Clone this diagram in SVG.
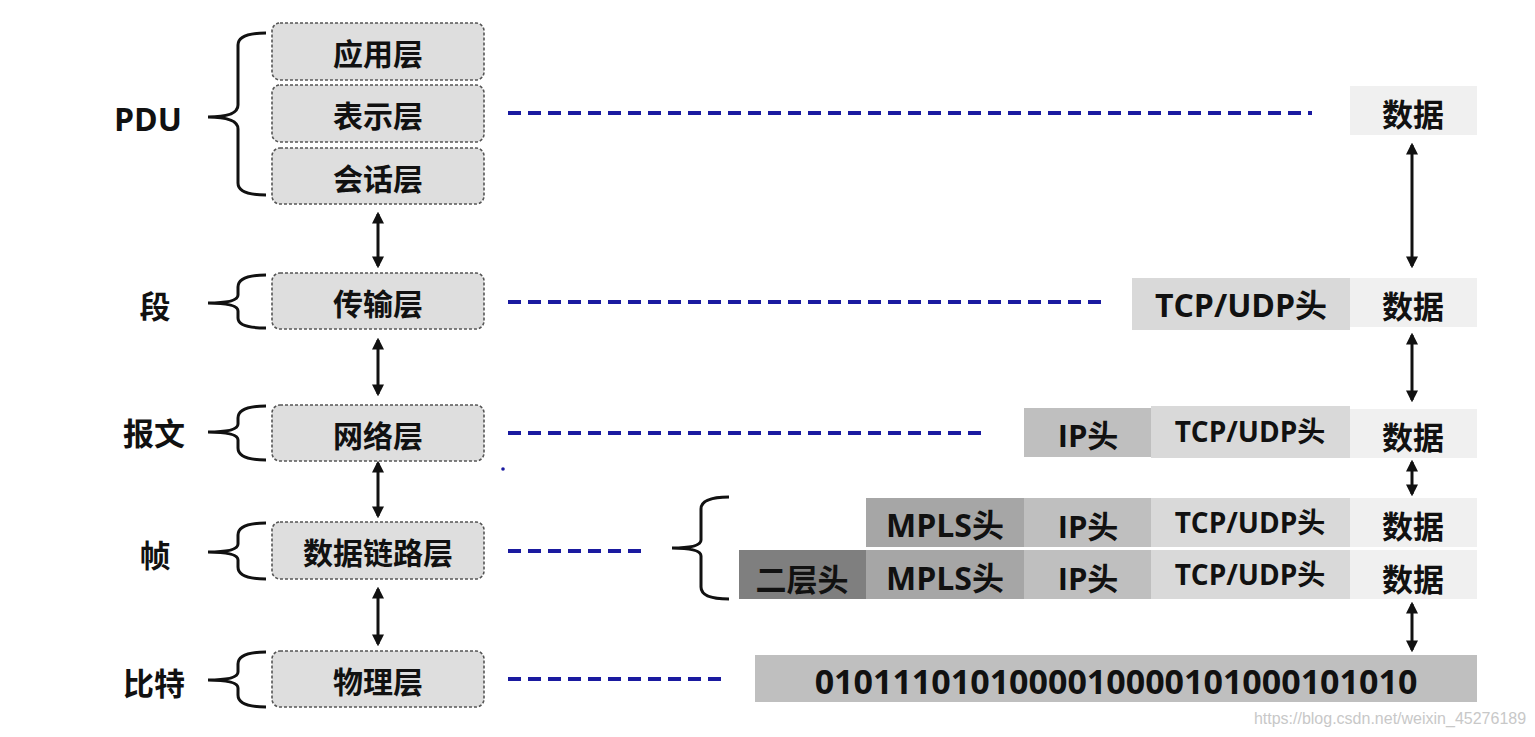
<svg xmlns="http://www.w3.org/2000/svg" width="1535" height="737" viewBox="0 0 1535 737">
<defs>
<marker id="ah" viewBox="0 0 10 10" refX="8" refY="5" markerWidth="4" markerHeight="4" orient="auto-start-reverse" markerUnits="strokeWidth">
<path d="M0,0 L10,5 L0,10 z" fill="#111"/>
</marker>
<style>
text{font-family:"Noto Sans CJK SC","Noto Sans",sans-serif;font-weight:bold;fill:#111;text-anchor:middle;dominant-baseline:central}
.lat{font-family:"Open Sans","Noto Sans CJK SC",sans-serif}
.layer{fill:#dedede;stroke:#555;stroke-width:1.6;stroke-dasharray:3 2}
.lt{font-size:30px}
.side{font-size:31px}
.brace{fill:none;stroke:#111;stroke-width:3}
.dash{stroke:#1a1aa0;stroke-width:4;stroke-dasharray:13 7}
.arr{stroke:#111;stroke-width:3;marker-start:url(#ah);marker-end:url(#ah)}
.c1{fill:#7f7f7f}.c2{fill:#a6a6a6}.c3{fill:#bfbfbf}.c4{fill:#d9d9d9}.c5{fill:#f0f0f0}
.ct{font-size:31px}
.cs{font-size:28px}
</style>
</defs>
<rect width="1535" height="737" fill="#fff"/>

<g id="labels">
<text class="side lat" x="148" y="118" style="font-size:32px">PDU</text>
<text class="side" x="155" y="304">段</text>
<text class="side" x="154" y="431">报文</text>
<text class="side" x="155" y="553">帧</text>
<text class="side" x="154" y="681">比特</text>
</g>

<g id="braces">
<path class="brace" d="M266,33 Q238,33 238,45 L238,105 Q238,117 208,117 Q238,117 238,129 L238,183 Q238,195 266,195"/>
<path class="brace" d="M266,275 Q238,275 238,287 L238,295 Q238,303 208,303 Q238,303 238,311 L238,318 Q238,328 266,328"/>
<path class="brace" d="M266,406 Q238,406 238,418 L238,424 Q238,432 208,432 Q238,432 238,440 L238,448 Q238,460 266,460"/>
<path class="brace" d="M266,523 Q238,523 238,535 L238,544 Q238,552 208,552 Q238,552 238,560 L238,567 Q238,579 266,579"/>
<path class="brace" d="M266,652 Q238,652 238,664 L238,672 Q238,680 208,680 Q238,680 238,688 L238,695 Q238,707 266,707"/>
<path class="brace" d="M729,497 Q701,497 701,509 L701,540 Q701,548 672,548 Q701,548 701,556 L701,587 Q701,599 729,599"/>
</g>

<g id="layer-app"><rect class="layer" x="272" y="23" width="212" height="57" rx="8"/><text class="lt" x="378" y="52">应用层</text></g>
<g id="layer-pres"><rect class="layer" x="272" y="85" width="212" height="57" rx="8"/><text class="lt" x="378" y="114">表示层</text></g>
<g id="layer-sess"><rect class="layer" x="272" y="148" width="212" height="56" rx="8"/><text class="lt" x="378" y="177">会话层</text></g>
<g id="layer-trans"><rect class="layer" x="272" y="273" width="212" height="56" rx="8"/><text class="lt" x="378" y="302">传输层</text></g>
<g id="layer-net"><rect class="layer" x="272" y="405" width="212" height="56" rx="8"/><text class="lt" x="378" y="434">网络层</text></g>
<g id="layer-link"><rect class="layer" x="272" y="522" width="212" height="57" rx="8"/><text class="lt" x="378" y="551">数据链路层</text></g>
<g id="layer-phy"><rect class="layer" x="272" y="651" width="212" height="56" rx="8"/><text class="lt" x="378" y="680">物理层</text></g>

<g id="row-data">
<rect class="c5" x="1350" y="86" width="127" height="49"/><text class="ct" x="1413" y="112">数据</text>
</g>
<g id="row-seg">
<rect class="c4" x="1132" y="278" width="218" height="52"/><text class="ct lat" x="1241" y="304" style="font-size:32px">TCP/UDP头</text>
<rect class="c5" x="1350" y="278" width="127" height="49"/><text class="ct" x="1413" y="304">数据</text>
</g>
<g id="row-pkt">
<rect class="c3" x="1024" y="408" width="127" height="49"/><text class="ct lat" x="1088" y="435">IP头</text>
<rect class="c4" x="1151" y="406" width="199" height="52"/><text class="cs lat" x="1250" y="431">TCP/UDP头</text>
<rect class="c5" x="1350" y="409" width="127" height="49"/><text class="ct" x="1413" y="435">数据</text>
</g>
<g id="row-mpls">
<rect class="c2" x="866" y="498" width="158" height="49"/><text class="ct lat" x="945" y="524" style="font-size:32px">MPLS头</text>
<rect class="c3" x="1024" y="498" width="127" height="49"/><text class="ct lat" x="1088" y="526">IP头</text>
<rect class="c4" x="1151" y="498" width="199" height="49"/><text class="cs lat" x="1250" y="522">TCP/UDP头</text>
<rect class="c5" x="1350" y="498" width="127" height="49"/><text class="ct" x="1413" y="524">数据</text>
</g>
<g id="row-frame">
<rect class="c1" x="739" y="550" width="127" height="49"/><text class="ct" x="802" y="577">二层头</text>
<rect class="c2" x="866" y="550" width="158" height="49"/><text class="ct lat" x="945" y="577" style="font-size:32px">MPLS头</text>
<rect class="c3" x="1024" y="550" width="127" height="49"/><text class="ct lat" x="1088" y="578">IP头</text>
<rect class="c4" x="1151" y="550" width="199" height="49"/><text class="cs lat" x="1250" y="574">TCP/UDP头</text>
<rect class="c5" x="1350" y="550" width="127" height="49"/><text class="ct" x="1413" y="577">数据</text>
</g>
<g id="row-bits">
<rect class="c3" x="755" y="655" width="722" height="47"/><text class="lat" x="1116" y="681" style="font-size:34px">0101110101000010000101000101010</text>
</g>

<g id="connectors">
<line class="dash" x1="508" y1="113" x2="1312" y2="113"/>
<line class="dash" x1="508" y1="302" x2="1108" y2="302"/>
<line class="dash" x1="508" y1="433" x2="988" y2="433"/>
<line class="dash" x1="508" y1="551" x2="643" y2="551"/>
<line class="dash" x1="508" y1="679" x2="728" y2="679"/>
<circle cx="503" cy="469" r="1.8" fill="#1a1aa0"/>
<line class="arr" x1="378" y1="214" x2="378" y2="266"/>
<line class="arr" x1="378" y1="340" x2="378" y2="394"/>
<line class="arr" x1="378" y1="463" x2="378" y2="516"/>
<line class="arr" x1="378" y1="589" x2="378" y2="644"/>
<line class="arr" x1="1412" y1="145" x2="1412" y2="266"/>
<line class="arr" x1="1412" y1="335" x2="1412" y2="400"/>
<line class="arr" x1="1412" y1="462" x2="1412" y2="494"/>
<line class="arr" x1="1412" y1="604" x2="1412" y2="650"/>
</g>

<text x="1390" y="718" style="font-family:'Liberation Sans',sans-serif;font-weight:normal;font-size:16px;fill:#c8c8c8">https://blog.csdn.net/weixin_45276189</text>
</svg>
